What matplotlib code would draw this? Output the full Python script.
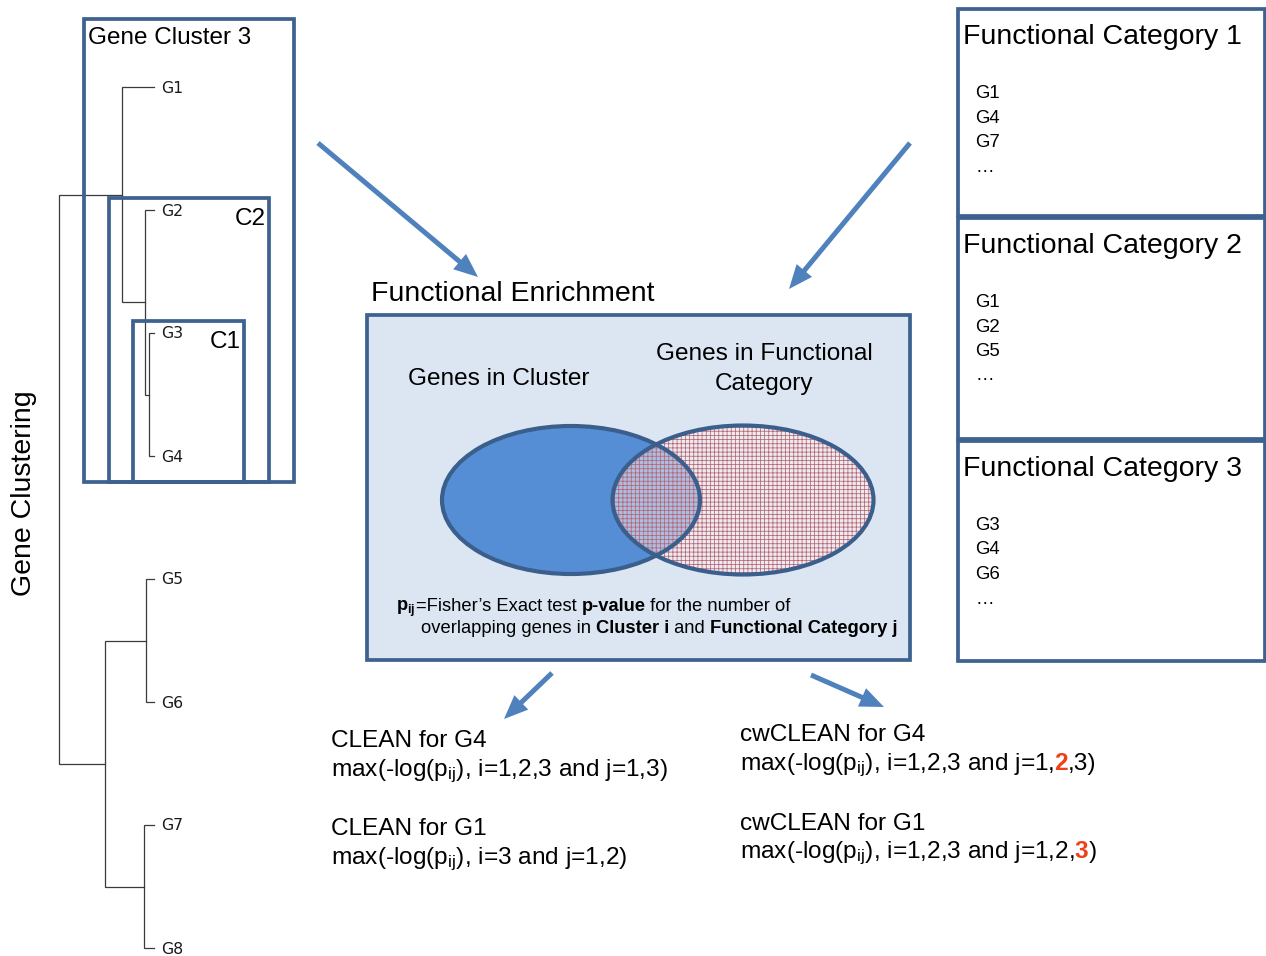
import matplotlib
matplotlib.use("Agg")
import matplotlib.pyplot as plt
from matplotlib.patches import Rectangle, Ellipse, FancyArrow

plt.rcParams["font.family"] = ["Liberation Sans", "DejaVu Sans"]
plt.rcParams["mathtext.fontset"] = "custom"
plt.rcParams["mathtext.rm"] = "Liberation Sans"
plt.rcParams["mathtext.it"] = "Liberation Sans:italic"
plt.rcParams["mathtext.bf"] = "Liberation Sans:bold"
plt.rcParams["hatch.linewidth"] = 0.55

# Dendrogram: leaves and merges (child a, child b, merge height)
LEAVES = ["G1", "G2", "G3", "G4", "G5", "G6", "G7", "G8"]
MERGES = [
    ("G3", "G4", 5, "C1"),
    ("G2", "C1", 9, "C2"),
    ("G1", "C2", 32, "C3"),
    ("G5", "G6", 8, "C56"),
    ("G7", "G8", 10, "C78"),
    ("C56", "C78", 49, "C5678"),
    ("C3", "C5678", 95, "ROOT"),
]

# Functional categories and their member genes
CATEGORIES = ["Functional Category 1", "Functional Category 2", "Functional Category 3"]
CATEGORY_GENES = [["G1", "G4", "G7"], ["G1", "G2", "G5"], ["G3", "G4", "G6"]]

BOX = "#3E6290"
ARROW = "#4F81BD"
VENN_BLUE = "#558ED5"
VENN_EDGE = "#3B5F8C"
PANEL = "#DCE6F2"
RED = "#F0401A"
LINE = "#3a3a3a"

fig = plt.figure(figsize=(12.66, 9.56), dpi=100)
ax = fig.add_axes([0, 0, 1, 1])
ax.set_xlim(0, 1266)
ax.set_ylim(956, 0)
ax.axis("off")

# ---- dendrogram ----
TIP_X = 154
LEAF_Y0 = 87
LEAF_STEP = 123
pos = {}
for i, g in enumerate(LEAVES):
    pos[g] = (TIP_X, LEAF_Y0 + i * LEAF_STEP)
    ax.text(161, pos[g][1] + 5.5, g, fontsize=11.3, family="DejaVu Sans",
            color="#1a1a1a", va="baseline", ha="left")

for a, b, h, name in MERGES:
    x = TIP_X - h
    (xa, ya), (xb, yb) = pos[a], pos[b]
    ax.plot([xa, x, x, xb], [ya, ya, yb, yb], color=LINE, lw=0.9,
            solid_joinstyle="miter", zorder=2)
    pos[name] = (x, (ya + yb) / 2)

# cluster boxes
for (x0, y0, x1, y1) in [(84, 19, 294, 482), (109, 198, 269, 482), (133, 321, 244, 482)]:
    ax.add_patch(Rectangle((x0, y0), x1 - x0, y1 - y0, fill=False,
                           edgecolor=BOX, lw=2.7, zorder=3))
ax.text(88, 44, "Gene Cluster 3", fontsize=17.5, va="baseline")
ax.text(266, 225, "C2", fontsize=17.5, va="baseline", ha="right")
ax.text(241, 348, "C1", fontsize=17.5, va="baseline", ha="right")
ax.text(24, 493, "Gene Clustering", fontsize=20.5, rotation=90,
        ha="center", va="center")

# ---- functional category boxes ----
cat_boxes = [(9, 216), (218, 439), (441, 661)]
for (y0, y1), title, genes in zip(cat_boxes, CATEGORIES, CATEGORY_GENES):
    ax.add_patch(Rectangle((958, y0), 1265 - 958, y1 - y0, fill=False,
                           edgecolor=BOX, lw=2.7, zorder=3))
    ax.text(963, y0 + 35, title, fontsize=20.5, va="baseline")
    for k, g in enumerate(genes + ["\u2026"]):
        ax.text(975, y0 + 89 + k * 24.5, g, fontsize=13.4, va="baseline")

# ---- functional enrichment panel ----
ax.text(371, 301, "Functional Enrichment", fontsize=20.5, va="baseline")
ax.add_patch(Rectangle((367, 315), 910 - 367, 660 - 315, facecolor=PANEL,
                       edgecolor=BOX, lw=2.7, zorder=1))
ax.text(499, 385, "Genes in Cluster", fontsize=17.6, ha="center", va="baseline")
ax.text(764, 360, "Genes in Functional", fontsize=17.6, ha="center", va="baseline")
ax.text(764, 390, "Category", fontsize=17.6, ha="center", va="baseline")

left = dict(xy=(571, 500), width=258, height=148)
right = dict(xy=(743, 500), width=261, height=149)
ax.add_patch(Ellipse(**left, facecolor=VENN_BLUE, edgecolor="none", zorder=2))
ax.add_patch(Ellipse(**right, facecolor=(1.0, 0.94, 0.95, 0.5),
                     edgecolor="none", zorder=3))
ax.add_patch(Ellipse(**right, facecolor="none", edgecolor="#B86470",
                     hatch="++++", lw=0, zorder=4))
ax.add_patch(Ellipse(**left, facecolor="none", edgecolor=VENN_EDGE, lw=3.0, zorder=5))
ax.add_patch(Ellipse(**right, facecolor="none", edgecolor=VENN_EDGE, lw=3.0, zorder=5))


def runs_text(x, y, runs, size):
    r = fig.canvas.get_renderer()
    for s, bold, color in runs:
        kw = dict(fontsize=size, fontweight="bold" if bold else "normal",
                  color=color, va="baseline", ha="left", zorder=6)
        ax.text(x, y, s, **kw)
        probe = ax.text(0, 0, s + "|", **kw)
        bar = ax.text(0, 0, "|", **kw)
        w = probe.get_window_extent(r).width - bar.get_window_extent(r).width
        probe.remove()
        bar.remove()
        x += w


K = "black"
runs_text(396, 611, [(r"$\mathbf{p}_{\mathbf{ij}}$", True, K),
                     ("=Fisher\u2019s Exact test ", False, K),
                     ("p-value", True, K),
                     (" for the number of", False, K)], 13.2)
runs_text(421, 633, [("overlapping genes in ", False, K),
                     ("Cluster i", True, K),
                     (" and ", False, K),
                     ("Functional Category j", True, K)], 13.2)

# ---- arrows ----
for (x0, y0, x1, y1) in [(318, 143, 478, 277), (910, 143, 789, 289),
                         (552, 673, 504, 719), (811, 675, 884, 707)]:
    ax.add_patch(FancyArrow(x0, y0, x1 - x0, y1 - y0, width=5, head_width=20,
                            head_length=24, length_includes_head=True,
                            color=ARROW, lw=0, zorder=4))

# ---- CLEAN / cwCLEAN results ----
P = r"p$_{\mathrm{ij}}$"
ax.text(331, 747, "CLEAN for G4", fontsize=17.6, va="baseline")
runs_text(331, 776, [("max(-log(" + P + "), i=1,2,3 and j=1,3)", False, K)], 17.6)
ax.text(331, 835, "CLEAN for G1", fontsize=17.6, va="baseline")
runs_text(331, 864, [("max(-log(" + P + "), i=3 and j=1,2)", False, K)], 17.6)

ax.text(740, 741, "cwCLEAN for G4", fontsize=17.6, va="baseline")
runs_text(740, 770, [("max(-log(" + P + "), i=1,2,3 and j=1,", False, K),
                     ("2", True, RED), (",3)", False, K)], 17.6)
ax.text(740, 830, "cwCLEAN for G1", fontsize=17.6, va="baseline")
runs_text(740, 858, [("max(-log(" + P + "), i=1,2,3 and j=1,2,", False, K),
                     ("3", True, RED), (")", False, K)], 17.6)

fig.savefig("out.png", dpi=100)
